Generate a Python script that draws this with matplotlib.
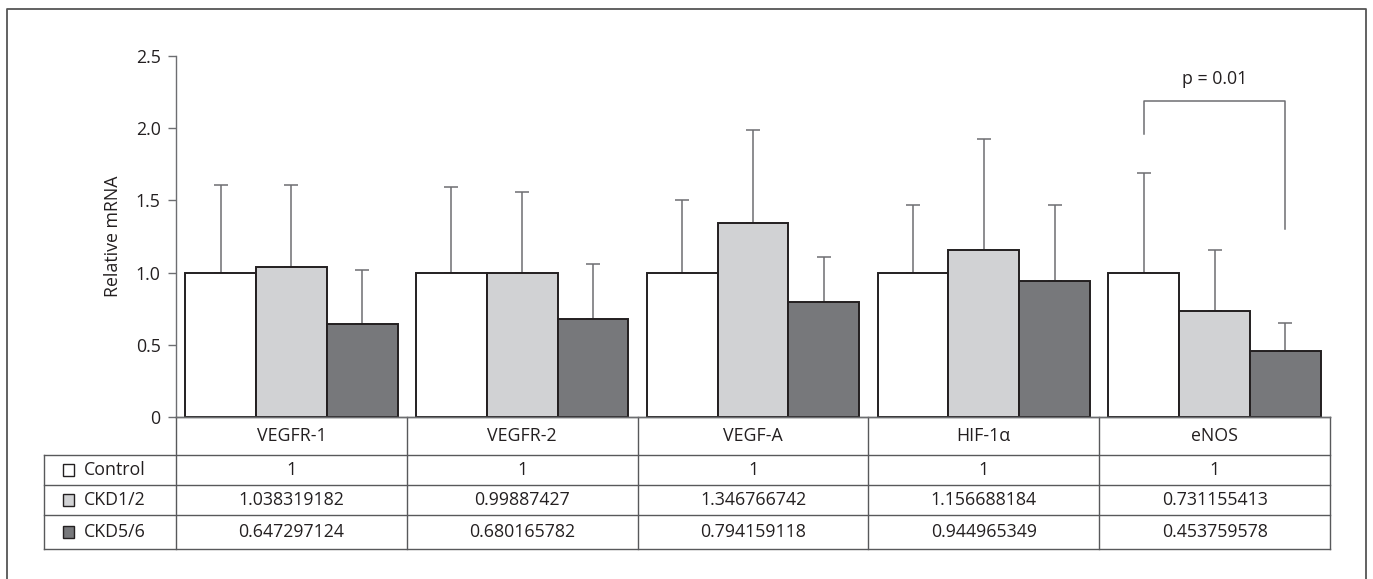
import numpy as np
import matplotlib.pyplot as plt
from matplotlib.transforms import blended_transform_factory
from matplotlib.patches import Rectangle

plt.rcParams['font.family'] = ['Open Sans', 'DejaVu Sans']

# data
genes = ['VEGFR-1', 'VEGFR-2', 'VEGF-A', 'HIF-1α', 'eNOS']
groups = ['Control', 'CKD1/2', 'CKD5/6']
control = [1, 1, 1, 1, 1]
ckd12 = [1.038319182, 0.99887427, 1.346766742, 1.156688184, 0.731155413]
ckd56 = [0.647297124, 0.680165782, 0.794159118, 0.944965349, 0.453759578]
control_txt = ['1', '1', '1', '1', '1']
ckd12_txt = ['1.038319182', '0.99887427', '1.346766742', '1.156688184', '0.731155413']
ckd56_txt = ['0.647297124', '0.680165782', '0.794159118', '0.944965349', '0.453759578']
# upper error (sd)
control_sd = [0.607, 0.59, 0.503, 0.466, 0.692]
ckd12_sd = [0.569, 0.559, 0.643, 0.770, 0.426]
ckd56_sd = [0.371, 0.380, 0.312, 0.521, 0.195]
p_text = 'p = 0.01'

colors = ['#ffffff', '#d1d2d4', '#77787b']
edge = '#231f20'
grey = '#6d6e71'
W, H = 1373, 579
fs = 12.8

fig = plt.figure(figsize=(W / 100, H / 100), dpi=100)
ax = fig.add_axes([176 / W, 1 - 417 / H, (1330 - 176) / W, (417 - 56) / H])

x = np.arange(len(genes)) + 0.5
bw = 0.307
vals = [control, ckd12, ckd56]
sds = [control_sd, ckd12_sd, ckd56_sd]
for i in range(3):
    xs = x + (i - 1) * bw
    ax.bar(xs, vals[i], bw, color=colors[i], edgecolor=edge, linewidth=1.4, zorder=2)
    ax.errorbar(xs, vals[i], yerr=[np.zeros(5), sds[i]], fmt='none', ecolor=grey,
                elinewidth=1.1, capsize=5, capthick=1.1, zorder=1)

ax.set_xlim(0, 5)
ax.set_ylim(0, 2.5)
ax.set_yticks([0, 0.5, 1.0, 1.5, 2.0, 2.5])
ax.set_yticklabels(['0', '0.5', '1.0', '1.5', '2.0', '2.5'], fontsize=fs, color=edge)
ax.set_xticks([])
ax.tick_params(axis='y', length=6, width=1.0, color=grey, pad=5)
for s in ['top', 'right']:
    ax.spines[s].set_visible(False)
ax.spines['left'].set_color(grey)
ax.spines['bottom'].set_color(grey)
ax.spines['left'].set_linewidth(1.0)
ax.spines['bottom'].set_linewidth(1.0)
ax.set_ylabel('Relative mRNA', fontsize=fs, color=edge, labelpad=10)

# significance bracket for eNOS
xl, xr = x[4] - bw, x[4] + bw
ax.plot([xl, xl, xr, xr], [1.958, 2.186, 2.186, 1.30], color=grey, lw=1.1, clip_on=False)
ax.text(x[4], 2.34, p_text, ha='center', va='center', fontsize=fs, color=edge)

# table under the plot
tr = blended_transform_factory(ax.transData, fig.transFigure)
rows_y = [1 - v / H for v in [417, 455, 485, 515, 549]]
xleft = -(176 - 43.7) / 230.8
lc = '#58595b'
for j, yy in enumerate(rows_y):
    x0 = 0 if j == 0 else xleft
    ax.plot([x0, 5], [yy, yy], color=lc, lw=1.0, transform=tr, clip_on=False)
for k in range(6):
    ax.plot([k, k], [rows_y[0], rows_y[-1]], color=lc, lw=1.0, transform=tr, clip_on=False)
ax.plot([xleft, xleft], [rows_y[1], rows_y[-1]], color=lc, lw=1.0, transform=tr, clip_on=False)

for k, g in enumerate(genes):
    ax.text(x[k], (rows_y[0] + rows_y[1]) / 2, g, ha='center', va='center',
            fontsize=fs, color=edge, transform=tr)
texts = [control_txt, ckd12_txt, ckd56_txt]
for r in range(3):
    yc = (rows_y[r + 1] + rows_y[r + 2]) / 2
    for k in range(5):
        ax.text(x[k], yc, texts[r][k], ha='center', va='center', fontsize=fs,
                color=edge, transform=tr)
    # legend swatch + group name
    sq = 12 / H
    fig.patches.append(Rectangle((63 / W, yc - sq / 2), 11 / W, sq, transform=fig.transFigure,
                                 facecolor=colors[r], edgecolor=edge, lw=1.0))
    fig.text(84 / W, yc, groups[r], ha='left', va='center', fontsize=fs, color=edge)

# outer frame (left, top, right)
fig.add_artist(plt.Line2D([7 / W, 7 / W, 1366 / W, 1366 / W], [0, 1 - 9 / H, 1 - 9 / H, 0],
                          transform=fig.transFigure, color='#555555', lw=1.3))

fig.savefig('out.png', dpi=100)
